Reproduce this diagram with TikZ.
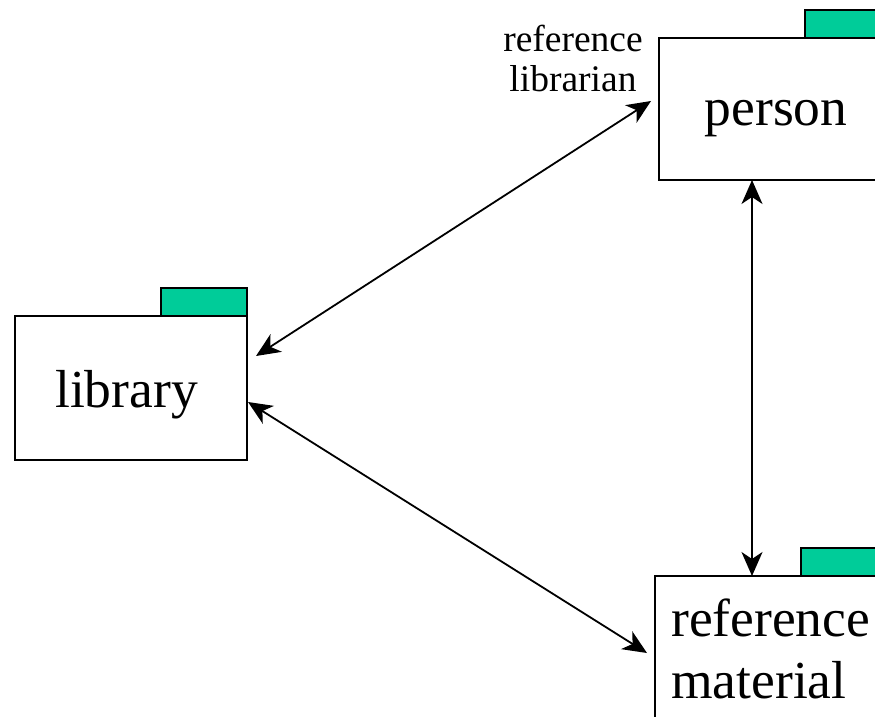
\documentclass[tikz,border=0pt]{standalone}
\usepackage{fontspec}
\setmainfont{Liberation Serif}
\usetikzlibrary{arrows.meta,calc}
\definecolor{tabgreen}{RGB}{0,204,153}
\begin{document}
\begin{tikzpicture}[x=1pt,y=-1pt,
  folder/.style={draw=black,line width=1.6pt,fill=white,minimum width=232pt,
    minimum height=144pt,inner sep=0pt,outer sep=0pt,anchor=north west},
  foldertab/.style={draw=black,line width=1.6pt,fill=tabgreen,minimum width=86pt,
    minimum height=28pt,inner sep=0pt,outer sep=0pt,anchor=south east},
  bigtext/.style={font=\fontsize{53.5}{62}\selectfont,inner sep=0pt},
  smalltext/.style={font=\fontsize{37.5}{40}\selectfont,inner sep=0pt,align=center},
  link/.style={draw=black,line width=1.8pt,
    {Stealth[length=24pt,width=21pt,inset=7pt]}-{Stealth[length=24pt,width=21pt,inset=7pt]}}]
\useasboundingbox (0,0) rectangle (875,717);
\clip (0,0) rectangle (875,717);

% folders
\node[folder] (lib) at (15,316) {};
\node[foldertab] (libtab) at (lib.north east) {};
\node[folder,minimum height=142pt] (per) at (659,38) {};
\node[foldertab] (pertab) at (per.north east) {};
\node[folder] (ref) at (655,576) {};
\node[foldertab] (reftab) at (ref.north east) {};

% folder names
\node[bigtext,anchor=base] (libname) at (126.5,407) {library};
\node[bigtext,anchor=base] (pername) at (776,125) {person};
\node[bigtext,anchor=base west] (refname1) at (671,636) {reference};
\node[bigtext,anchor=base west] (refname2) at (671,698) {material};

% role label
\node[smalltext,anchor=base] (role1) at (573,52) {reference};
\node[smalltext,anchor=base] (role2) at (573,92) {librarian};

% associations
\draw[link] ($(lib.east)+(9,-32)$) -- ($(per.west)+(-8,-8)$);
\draw[link] ($(lib.east)+(1,14)$) -- ($(ref.west)+(-8,5)$);
\draw[link] ($(per.south west)+(93,0)$) -- ($(ref.north west)+(97,0)$);
\end{tikzpicture}
\end{document}
